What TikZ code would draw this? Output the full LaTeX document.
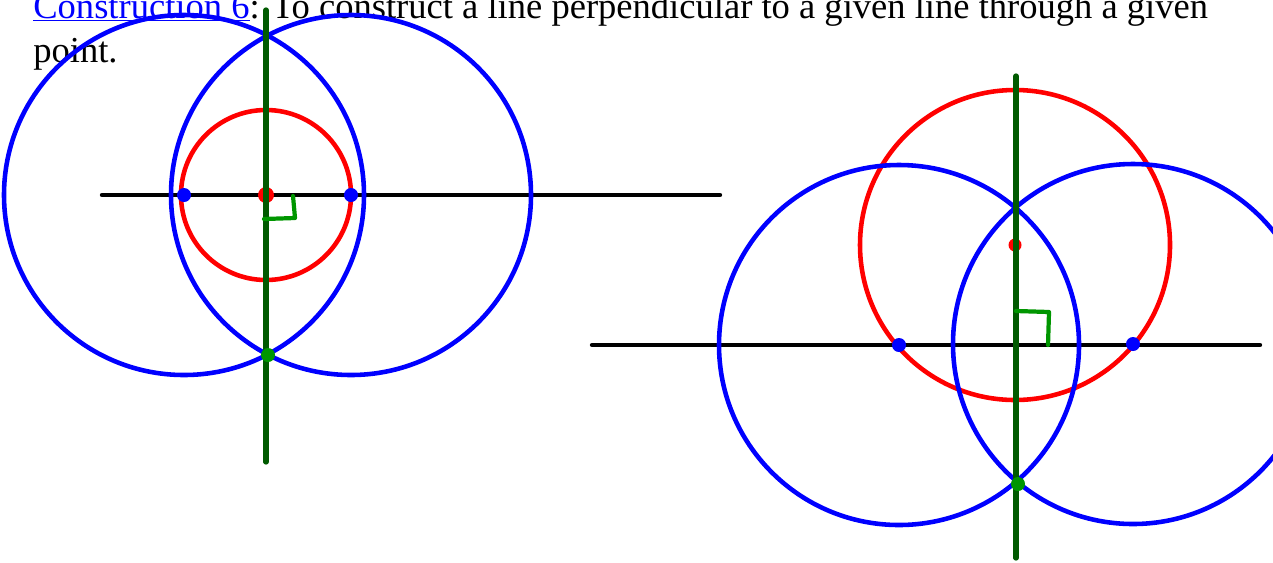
\documentclass[tikz,border=0pt]{standalone}
\usepackage{fontspec}
\setmainfont{Liberation Serif}
\definecolor{linkblue}{RGB}{0,0,255}
\definecolor{perpgreen}{RGB}{0,90,0}
\definecolor{markgreen}{RGB}{0,150,0}
\begin{document}
\begin{tikzpicture}[x=0.02cm,y=-0.02cm,
  heading/.style={anchor=base west,inner sep=0pt,font=\fontsize{20.8}{25}\selectfont},
  givenline/.style={line width=2.5pt,line cap=round},
  compass/.style={line width=2.6pt},
  perpline/.style={perpgreen,line width=3pt,line cap=round},
  rightmark/.style={markgreen,line width=2.4pt,line cap=round,line join=round}]
  \useasboundingbox (0,0) rectangle (1273,562);
  % Parameters for the construction
  \def\bigR{180} % radius of the blue arcs
  \def\dotR{7} % radius of the marked points

  % Heading text
  \node[heading] (title) at (33,18) {\textcolor{linkblue}{\underline{Construction 6}}: To construct a line perpendicular to a given line through a given};
  \node[heading] (title2) at (33,62) {point.};

  % Left construction: the point lies on the line
  \coordinate (P) at (266,195); % given point
  \coordinate (A) at (184,195); % left cut of the red circle
  \coordinate (B) at (351,195); % right cut of the red circle
  \coordinate (L1) at (102,195);
  \coordinate (L2) at (720,195);
  \coordinate (T1) at (266,10);
  \coordinate (T2) at (266,462);
  \coordinate (X) at (268,355); % lower meeting point of the blue circles

  \draw[givenline] (L1) -- (L2);
  \draw[compass,red] (P) circle (85);
  \draw[compass,blue] (A) circle (\bigR);
  \draw[compass,blue] (B) circle (\bigR);
  \fill[red] (P) circle (8);
  \fill[blue] (A) circle (\dotR);
  \fill[blue] (B) circle (\dotR);
  \draw[perpline] (T1) -- (T2);
  \fill[markgreen] (X) circle (\dotR);
  \draw[rightmark] (264,219) -- (295,218) -- (293,196);

  % Right construction: the point lies off the line
  \coordinate (Q) at (1015,245); % given point
  \coordinate (C) at (899,345); % left cut of the red circle
  \coordinate (D) at (1133,344); % right cut of the red circle
  \coordinate (M1) at (592,345);
  \coordinate (M2) at (1260,345);
  \coordinate (U1) at (1016,76);
  \coordinate (U2) at (1016,558);
  \coordinate (Y) at (1018,484); % lower meeting point of the blue circles

  \draw[givenline] (M1) -- (M2);
  \draw[compass,red] (Q) circle (155);
  \draw[compass,blue] (C) circle (\bigR);
  \draw[compass,blue] (D) circle (\bigR);
  \fill[red] (Q) circle (6.5);
  \fill[blue] (C) circle (\dotR);
  \fill[blue] (D) circle (\dotR);
  \draw[perpline] (U1) -- (U2);
  \fill[markgreen] (Y) circle (\dotR);
  \draw[rightmark] (1016,311) -- (1049,312) -- (1048,345);
\end{tikzpicture}
\end{document}
